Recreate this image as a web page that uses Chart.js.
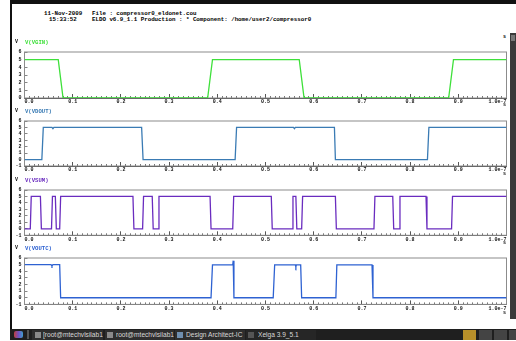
<!DOCTYPE html>
<html>
<head>
<meta charset="utf-8">
<script src="https://cdn.jsdelivr.net/npm/chart.js@4.4.1/dist/chart.umd.min.js"></script>
<style>
  html, body { margin:0; padding:0; background:#fff; }
  #root { position:relative; width:516px; height:341px; overflow:hidden; background:#fff; }
  canvas { position:absolute; left:0; }
  .t { position:absolute; white-space:pre; font-family:"Liberation Mono","DejaVu Sans Mono",monospace; font-weight:bold; line-height:1; }
  .blk { position:absolute; }
  .tb { position:absolute; top:329px; height:11px; font-family:"Liberation Sans",Arial,sans-serif; font-size:6.6px; color:#d8d8d8; line-height:11px; white-space:nowrap; overflow:hidden; }
</style>
</head>
<body>
<div id="root">
  <!-- window frame -->
  <div class="blk" style="left:10px;top:0;width:506px;height:4px;background:#111;"></div>
  <div class="blk" style="left:10px;top:0;width:1.5px;height:330px;background:#111;"></div>
  <div class="blk" style="left:510px;top:33px;width:6px;height:286px;background:#3a3a3a;"></div>
  <div class="blk" style="left:511px;top:35px;width:4px;height:6px;background:#777;"></div>

  <!-- header -->
  <div class="t" style="left:44px;top:10.5px;font-size:5.8px;">11-Nov-2009</div>
  <div class="t" style="left:49px;top:16.5px;font-size:5.8px;">15:33:52</div>
  <div class="t" style="left:92px;top:10.5px;font-size:5.8px;">File : compressor0_eldonet.cou</div>
  <div class="t" style="left:92px;top:16.5px;font-size:5.8px;">ELDO v6.9_1.1 Production : * Component: /home/user2/compressor0</div>
  <div class="t" style="left:503px;top:35px;font-size:5px;">s</div>

  <canvas id="c1"></canvas>
  <canvas id="c2"></canvas>
  <canvas id="c3"></canvas>
  <canvas id="c4"></canvas>

  <!-- taskbar -->
  <div class="blk" style="left:10px;top:329px;width:506px;height:11px;background:#1f1f1f;"></div>
  <div class="blk" style="left:14px;top:331px;width:9px;height:7px;background:linear-gradient(90deg,#c04040,#7050c0,#40a0d0);border-radius:2px;"></div>
  <div class="blk" style="left:27px;top:330px;width:2px;height:9px;background:#555;"></div>
  <div class="blk" style="left:32px;top:330px;width:71px;height:10px;background:#2e2e2e;"></div>
  <div class="blk" style="left:35px;top:332px;width:6px;height:6px;background:#8a8a8a;"></div>
  <div class="tb" style="left:43px;width:60px;">[root@mtechvlsilab1:</div>
  <div class="blk" style="left:105px;top:330px;width:69px;height:10px;background:#2e2e2e;"></div>
  <div class="blk" style="left:107px;top:332px;width:6px;height:6px;background:#8a8a8a;"></div>
  <div class="tb" style="left:116px;width:58px;">root@mtechvlsilab1:</div>
  <div class="blk" style="left:175px;top:330px;width:70px;height:10px;background:#2e2e2e;"></div>
  <div class="blk" style="left:177px;top:332px;width:6px;height:6px;background:#6f8fb0;"></div>
  <div class="tb" style="left:186px;width:60px;">Design Architect-IC</div>
  <div class="blk" style="left:246px;top:330px;width:70px;height:10px;background:#262626;"></div>
  <div class="blk" style="left:248px;top:332px;width:6px;height:6px;background:#555;"></div>
  <div class="tb" style="left:258px;width:58px;">Xelga 3.9_5.1</div>
  <div class="blk" style="left:463px;top:330px;width:13px;height:10px;background:#b8902a;"></div>
  <div class="blk" style="left:479px;top:330px;width:13px;height:10px;background:#444;"></div>
  <div class="blk" style="left:494px;top:330px;width:13px;height:10px;background:#444;"></div>
  <div class="blk" style="left:509px;top:330px;width:7px;height:10px;background:#444;"></div>
</div>

<script>
// ---------- data (time in ns, 0..100 ns = 0..1.0e-7 s) ----------
const xTickLabels = ['0.0','0.1','0.2','0.3','0.4','0.5','0.6','0.7','0.8','0.9','1.0e-7'];
const yTicksTop = [0,1,2,3,4,5,6];
const yTicksLow = [-1,0,1,2,3,4,5,6];

const seriesNames = ['V(VGIN)','V(VDOUT)','V(VSUM)','V(VOUTC)'];

const vginT = [0, 7, 8, 38, 39, 57, 58, 88, 89, 100];
const vginV = [5, 5, 0, 0, 5, 5, 0, 0, 5, 5];

const vdoutT = [0, 3.6, 3.9, 5.7, 5.9, 6.1, 24.3, 24.6, 43.7, 44.0, 55.8, 56.0, 56.2, 64.3, 64.5, 83.6, 83.9, 100];
const vdoutV = [0, 0, 5, 5, 4.8, 5, 5, 0, 0, 5, 5, 4.8, 5, 5, 0, 0, 5, 5];

const vsumT = [0, 1.2, 1.4, 3.3, 3.5, 5.6, 5.8, 6.4, 6.6, 7.3, 7.5, 22.5, 22.7, 24.5, 24.7, 26.5, 26.7, 27.7, 27.9,
               38.5, 38.7, 43.2, 43.4, 51.2, 51.4, 55.5, 55.7, 56.3, 56.5, 57.5, 57.7, 64.5, 64.7, 72.5, 72.7,
               76.4, 76.6, 77.7, 77.9, 83.3, 83.5, 88.6, 88.8, 100];
const vsumV = [0, 0, 5, 5, 0, 0, 5, 5, 0, 0, 5, 5, 0, 0, 5, 5, 0, 0, 5,
               5, 0, 0, 5, 5, 0, 0, 5, 5, 0, 0, 5, 5, 0, 0, 5,
               5, 0, 0, 5, 5, 0, 0, 5, 5];

const voutcT = [0, 5.5, 5.7, 5.9, 7.3, 7.5, 38.7, 39.0, 43.2, 43.3, 43.45, 51.6, 51.9, 56.2, 56.3, 56.4, 57.3, 57.5,
                64.6, 64.8, 72.1, 72.3, 100];
const voutcV = [5, 5, 4.8, 5, 5, 0, 0, 4.95, 4.95, 5.6, 0, 0, 4.95, 4.95, 4.7, 4.95, 4.95, 0,
                0, 4.95, 4.95, 0, 0];

const colors = ['#3ee03a', '#3a7bb4', '#6a2cbf', '#2e62d2'];

// ---------- layout per panel (page px) ----------
const panels = [
  {id:'c1', top:43, h:67, padTop:6,   padBot:12,  ymin:0,  t:vginT,  v:vginV,  name:0, unitY:39,  sY:103},
  {id:'c2', top:112, h:66, padTop:6.2, padBot:12, ymin:-1, t:vdoutT, v:vdoutV, name:1, unitY:108, sY:172},
  {id:'c3', top:181, h:66, padTop:6,  padBot:11.7, ymin:-1, t:vsumT,  v:vsumV,  name:2, unitY:177, sY:241},
  {id:'c4', top:249, h:67, padTop:6.3, padBot:11.6, ymin:-1, t:voutcT, v:voutcV, name:3, unitY:245, sY:311}
];

const boxPlugin = {
  id:'box',
  beforeDatasetsDraw(chart){
    const a = chart.chartArea, c = chart.ctx;
    c.save();
    c.strokeStyle = '#8c8c8c';
    c.lineWidth = 1;
    c.strokeRect(a.left, a.top, a.right - a.left, a.bottom - a.top);
    c.restore();
  }
};

const tickFont = {family:'"Liberation Mono","DejaVu Sans Mono",monospace', size:5, weight:'bold'};
const root = document.getElementById('root');

panels.forEach((p, idx) => {
  const cv = document.getElementById(p.id);
  cv.width = 516; cv.height = p.h;
  cv.style.top = p.top + 'px';
  cv.style.width = '516px'; cv.style.height = p.h + 'px';
  const pts = p.t.map((t, i) => ({x:t, y:p.v[i]}));
  new Chart(cv, {
    type:'line',
    data:{ datasets:[{ data:pts, borderColor:colors[idx], borderWidth:1.3, pointRadius:0, tension:0, fill:false }] },
    options:{
      responsive:false, animation:false, devicePixelRatio:1,
      layout:{ padding:{ left:0, right:9.5, top:p.padTop, bottom:0 } },
      plugins:{ legend:{display:false}, tooltip:{enabled:false} },
      scales:{
        x2:{
          type:'linear', position:'bottom', min:0, max:100, weight:0,
          afterFit(s){ s.height = 0; },
          grid:{ drawOnChartArea:false, drawTicks:true, tickLength:-4, color:'#444', lineWidth:0.9 },
          border:{ display:false },
          ticks:{ stepSize:10, display:false }
        },
        x:{
          type:'linear', position:'bottom', min:0, max:100, weight:1,
          afterFit(s){ s.height = p.padBot; },
          grid:{ drawOnChartArea:false, drawTicks:true, tickLength:-2, color:'#555', lineWidth:0.8 },
          border:{ display:true, color:'#444', width:1 },
          ticks:{
            stepSize:1, autoSkip:false, maxRotation:0, minRotation:0, padding:3, align:'inner', color:'#111', font:tickFont,
            callback(v){ const r = Math.round(v); return (r % 10 === 0) ? xTickLabels[r/10] : ''; }
          }
        },
        y:{
          type:'linear', position:'left', min:p.ymin, max:6,
          afterFit(s){ s.width = 24.5; },
          grid:{ drawOnChartArea:false, drawTicks:true, tickLength:-3, color:'#666', lineWidth:0.8 },
          border:{ display:true, color:'#777', width:1 },
          afterBuildTicks(s){ s.ticks = (p.ymin === 0 ? yTicksTop : yTicksLow).map(v => ({value:v})); },
          ticks:{ autoSkip:false, padding:6, color:'#111', font:tickFont, callback(v){ return String(v); } }
        }
      }
    },
    plugins:[boxPlugin]
  });

  // series name, units
  const nm = document.createElement('div');
  nm.className = 't';
  nm.style.cssText = `left:25px;top:${p.unitY + 1}px;font-size:5.6px;color:${colors[idx]};`;
  nm.textContent = seriesNames[p.name];
  root.appendChild(nm);
  const uv = document.createElement('div');
  uv.className = 't';
  uv.style.cssText = `left:15px;top:${p.unitY + 1}px;font-size:5px;color:#111;`;
  uv.textContent = 'V';
  root.appendChild(uv);
  const us = document.createElement('div');
  us.className = 't';
  us.style.cssText = `left:503px;top:${p.sY}px;font-size:5px;color:#111;`;
  us.textContent = 's';
  root.appendChild(us);
});
</script>
</body>
</html>
